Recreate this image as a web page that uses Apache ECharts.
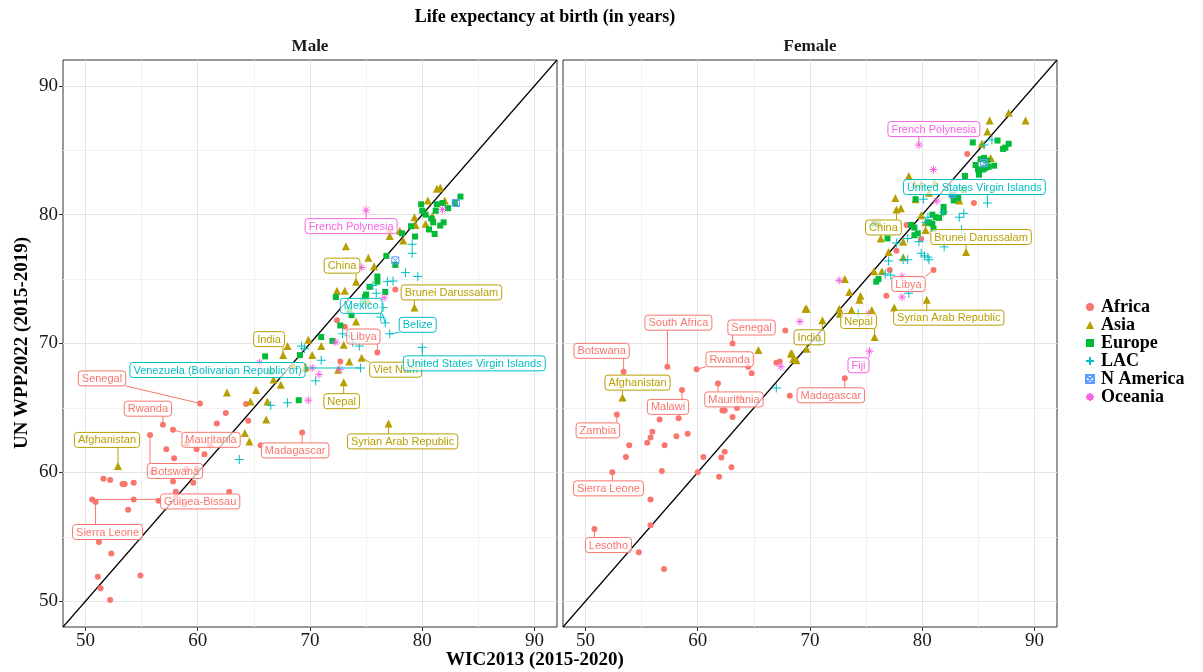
<!DOCTYPE html>
<html><head><meta charset="utf-8">
<script src="https://cdn.jsdelivr.net/npm/echarts@6/dist/echarts.min.js"></script>
<style>html,body{margin:0;padding:0;background:#fff}#c{width:1203px;height:672px}</style>
</head><body><div id="c"></div>
<script>
// ---------------- DATA ----------------
const groups = ['Africa','Asia','Europe','LAC','N America','Oceania'];
const panels = ['Male','Female'];
const tickValues = [50,60,70,80,90];
const minorValues = [55,65,75,85];

// [WIC2013, WPP2022, optional label]
const male_Africa = [[60.2,65.35,'Senegal'],[62.5,64.6],[61.7,63.8],[64.3,65.3],[64.5,64.0],[56.9,63.7,'Rwanda'],[57.8,63.3,'Mauritania'],[55.75,62.9,'Botswana'],[59.0,62.2],[59.9,61.8],[61.1,62.1],[57.2,61.8],[60.6,61.4],[57.9,61.1],[65.6,62.1],[69.3,63.1,'Madagascar'],[59.0,60.25],[59.9,60.3],[56.0,60.0],[57.8,59.3],[59.6,59.2],[51.6,59.5],[52.2,59.4],[53.3,59.1],[53.5,59.1],[54.3,59.2],[58.05,58.5],[58.05,58.1],[58.8,57.5],[62.8,58.5],[56.5,57.8],[50.6,57.9,'Guinea-Bissau'],[50.9,57.7,'Sierra Leone'],[54.3,57.9],[53.8,57.1],[51.2,54.6],[52.3,53.7],[51.1,51.9],[51.35,51.0],[52.2,50.1],[54.9,52.0],[72.4,71.8],[73.1,71.3],[77.6,74.2],[77.1,78.7],[72.7,68.6],[76.0,69.3,'Libya']];
const male_Asia = [[52.9,60.5,'Afghanistan'],[67.6,69.1,'India'],[68.0,69.8],[62.6,66.2],[65.2,66.4],[64.7,65.5],[66.2,65.5],[66.1,64.1],[64.2,63.05],[64.6,62.4],[66.75,67.2],[67.4,66.8],[68.5,68.3],[69.6,68.2],[69.85,70.3],[71.0,69.8],[70.2,69.1],[73.0,69.9],[73.5,68.6],[72.5,67.96],[69.5,68.1],[73.0,67.0,'Nepal'],[77.0,63.8,'Syrian Arab Republic'],[74.6,68.9,'Viet Nam'],[73.2,77.55],[75.2,76.65],[75.7,76.0],[74.1,74.8,'China'],[72.4,74.1],[73.1,74.1],[75.2,73.3],[74.1,71.7],[79.3,72.8,'Brunei Darussalam'],[78.0,78.75],[77.1,78.35],[78.3,78.0],[79.3,79.8],[80.5,81.1],[81.3,82.0],[81.6,82.1],[80.9,79.9],[80.3,79.3],[82.0,81.1],[79.4,79.2]];
const male_Europe = [[83.4,81.4],[82.9,80.9],[79.9,80.8],[81.3,80.8],[81.8,80.9],[80.3,80.0],[81.2,80.3],[80.97,79.4],[80.8,79.7],[80.6,78.85],[81.9,79.4],[81.6,79.15],[81.1,78.5],[79.0,79.1],[79.35,78.3],[78.2,78.55],[76.8,76.8],[77.6,76.1],[76.0,75.2],[76.0,74.8],[75.3,74.4],[75.0,73.8],[74.9,73.6],[76.7,74.0],[72.3,73.6],[73.5,72.6],[74.7,73.3],[73.7,72.2],[72.7,71.4],[71.0,70.5],[72.0,70.2],[66.0,69.0],[69.0,65.6],[69.1,69.1],[66.5,67.8],[80.0,80.3],[82.3,80.5]];
const male_LAC = [[79.1,77.7],[79.1,77.0],[78.5,75.5],[79.6,75.2],[76.9,74.8],[77.4,74.85],[76.3,72.05],[77.1,70.75,'Belize'],[76.5,72.8],[72.9,70.75],[73.5,70.6],[75.6,74.5],[74.5,72.9],[73.8,70.1],[74.4,69.8],[80.0,69.7,'United States Virgin Islands'],[71.0,68.7],[70.5,67.1],[74.5,68.1,'Venezuela (Bolivarian Republic of)'],[69.25,69.8],[69.5,69.6],[66.5,65.2],[68.0,65.4],[63.7,61.0],[76.7,71.6,'Mexico'],[75.9,73.9]];
const male_NAmerica = [[77.6,76.45],[83.0,80.9]];
const male_Oceania = [[75.0,80.35,'French Polynesia'],[74.6,75.9],[81.8,80.4],[65.5,68.5],[69.85,65.6],[70.2,68.1],[70.8,67.6],[72.3,70.1],[72.65,68.0],[76.6,73.55]];

const female_Africa = [[57.3,68.2,'South Africa'],[63.1,70.0,'Senegal'],[53.4,67.8,'Botswana'],[59.9,68.0,'Rwanda'],[64.5,68.2],[64.8,67.7],[67.8,71.0],[67.0,68.5],[67.3,68.6],[61.8,66.9,'Mauritania'],[58.6,66.4,'Malawi'],[63.8,65.8],[63.5,65.0],[62.2,64.8],[62.4,64.8],[63.1,64.3],[73.1,67.3,'Madagascar'],[68.2,65.95],[52.8,64.5,'Zambia'],[56.6,64.1],[58.3,64.2],[55.96,63.15],[55.8,62.7],[55.5,62.3],[57.05,62.1],[58.1,62.8],[59.1,63.0],[53.9,62.1],[53.6,61.2],[60.5,61.2],[62.1,61.15],[62.4,61.6],[63.0,60.4],[61.9,59.65],[60.0,60.0],[56.8,60.1],[52.4,60.0,'Sierra Leone'],[55.8,57.9],[55.8,55.9],[54.75,53.8],[50.8,55.6,'Lesotho'],[57.0,52.5],[81.0,75.7,'Libya'],[76.8,73.7],[77.1,75.7],[77.7,77.2],[78.6,79.2],[79.9,78.1],[84.6,80.9],[84.0,84.7]];
const female_Asia = [[53.3,65.8,'Afghanistan'],[65.4,69.5],[68.3,69.25],[68.5,68.8],[68.8,68.7],[69.7,69.6],[69.6,72.7],[71.1,71.8,'India'],[72.65,72.3],[73.7,72.6],[75.75,70.5,'Nepal'],[68.4,69.2],[80.4,73.4,'Syrian Arab Republic'],[77.5,72.8],[87.7,87.9],[89.2,87.3],[86.0,87.3],[85.8,86.45],[85.3,85.5],[86.1,84.4],[78.8,83.0],[81.1,82.5],[79.3,82.4],[79.9,82.4],[77.6,81.3],[79.4,81.2],[80.6,81.7],[77.7,80.4,'China'],[78.1,80.5],[83.3,81.1],[79.9,79.96],[80.3,78.8],[80.3,79.4],[76.2,79.3],[76.3,78.15],[78.3,77.9],[77.0,77.1],[78.3,76.7],[83.9,77.1,'Brunei Darussalam'],[75.7,75.6],[76.4,75.6],[73.1,75.0],[73.5,74.0],[74.5,73.7],[74.4,73.4],[72.6,72.7],[75.5,72.6],[69.7,72.7]];
const female_Europe = [[86.7,85.75],[87.4,85.2],[87.7,85.5],[87.2,85.1],[84.5,85.6],[85.2,84.3],[85.5,84.4],[85.8,84.2],[85.9,83.7],[86.4,83.8],[85.6,83.6],[84.75,83.85],[84.97,83.5],[85.05,83.1],[85.4,83.5],[83.8,83.0],[83.7,81.9],[82.7,81.5],[82.8,81.1],[83.2,81.3],[81.9,80.6],[81.9,80.2],[80.9,80.0],[81.2,79.8],[81.5,79.75],[80.6,79.4],[80.9,79.3],[79.3,79.0],[79.3,78.4],[79.0,79.2],[81.0,78.9],[76.9,78.15],[75.75,79.3],[75.9,74.8],[76.1,75.0],[79.4,81.2],[79.6,78.55]];
const female_LAC = [[86.2,85.8],[85.5,85.4],[85.8,80.9,'United States Virgin Islands'],[82.7,81.5],[83.7,80.1],[83.3,79.8],[83.5,78.85],[81.9,80.2],[81.95,77.5],[80.5,79.8],[80.3,79.4],[79.7,77.9],[79.9,77.0],[80.5,76.7],[80.6,76.5],[80.2,76.8],[78.7,78.15],[77.7,77.8],[77.0,76.4],[78.3,76.5],[78.7,76.5],[76.7,75.4],[77.2,75.3],[78.8,73.9],[74.3,72.3],[67.0,66.55],[70.8,70.2],[80.1,81.2]];
const female_NAmerica = [[82.7,81.6],[85.5,84.0]];
const female_Oceania = [[79.7,85.4,'French Polynesia'],[81.0,83.5],[81.3,81.05],[72.6,74.9],[78.2,75.2],[78.2,73.6],[75.2,72.3],[69.1,71.7],[75.3,69.4,'Fiji'],[67.4,68.2]];

// ---------------- LAYOUT / STYLE ----------------
const panelData = [
  [male_Africa, male_Asia, male_Europe, male_LAC, male_NAmerica, male_Oceania],
  [female_Africa, female_Asia, female_Europe, female_LAC, female_NAmerica, female_Oceania]
];
const colors = ['#F8766D','#B79F00','#00BA38','#00BFC4','#619CFF','#F564E3'];
const symbols = ['circle','triangle','rect',
  'path://M5,0L5,10M0,5L10,5',
  'path://M0,0L10,0L10,10L0,10ZM0,0L10,10M10,0L0,10',
  'path://M5,0L5,10M0,5L10,5M1.5,1.5L8.5,8.5M8.5,1.5L1.5,8.5'];
const symSizes = [6,8,6,9,7,8];
const stroked = [false,false,false,true,true,true];
// label box centre offsets (px) from the labelled point
const labelOffsets = [
  {'French Polynesia':[-15,16],'China':[-14,-16],'Brunei Darussalam':[37,-15],'Mexico':[-24,-17],'Belize':[28,-9],
   'Libya':[-14,-16],'India':[-14,-16],'Venezuela (Bolivarian Republic of)':[-143,2],'United States Virgin Islands':[52,16],
   'Viet Nam':[34,12],'Senegal':[-98,-25],'Nepal':[-2,19],'Rwanda':[-15,-16],'Afghanistan':[-11,-26],'Mauritania':[38,10],
   'Madagascar':[-7,18],'Syrian Arab Republic':[14,18],'Botswana':[25,36],'Guinea-Bissau':[108,2],'Sierra Leone':[12,30]},
  {'French Polynesia':[15,-16],'United States Virgin Islands':[-13,-16],'China':[-13,18],'Brunei Darussalam':[15,-15],
   'Libya':[-25,14],'Syrian Arab Republic':[22,18],'Nepal':[-16,-16],'India':[-13,17],'Fiji':[-11,14],'Madagascar':[-14,17],
   'South Africa':[11,-44],'Senegal':[19,-16],'Botswana':[-22,-21],'Rwanda':[33,-10],'Afghanistan':[15,-15],'Malawi':[-14,17],
   'Mauritania':[16,16],'Zambia':[-19,16],'Sierra Leone':[-4,16],'Lesotho':[14,16]}
];
const grids = [{left:63, top:60, width:494, height:567},{left:563, top:60, width:494, height:567}];
const serif = '"Liberation Serif","Times New Roman",serif';
const sans = '"Liberation Sans",Arial,sans-serif';
const labelFont = '11px ' + sans;

const measureCtx = document.createElement('canvas').getContext('2d');
measureCtx.font = labelFont;

const chart = echarts.init(document.getElementById('c'), null, {renderer:'canvas'});

const xAxes = [], yAxes = [], series = [];
panels.forEach((p, pi) => {
  xAxes.push({gridIndex:pi, type:'value', min:48, max:92,
    axisLine:{show:false}, splitLine:{show:false},
    axisTick:{show:true, customValues:tickValues, length:4, lineStyle:{color:'#333'}},
    axisLabel:{customValues:tickValues, fontFamily:serif, fontSize:19, color:'#1a1a1a', margin:5}});
  yAxes.push({gridIndex:pi, type:'value', min:48, max:92,
    axisLine:{show:false}, splitLine:{show:false},
    axisTick:{show:pi===0, customValues:tickValues, length:4, lineStyle:{color:'#333'}},
    axisLabel:{show:pi===0, customValues:tickValues, fontFamily:serif, fontSize:19, color:'#1a1a1a', margin:5}});
  // grid lines + diagonal
  const ml = [];
  tickValues.forEach(v => { ml.push({xAxis:v, lineStyle:{color:'#e4e4e4', width:1}}); ml.push({yAxis:v, lineStyle:{color:'#e4e4e4', width:1}}); });
  minorValues.forEach(v => { ml.push({xAxis:v, lineStyle:{color:'#f1f1f1', width:1}}); ml.push({yAxis:v, lineStyle:{color:'#f1f1f1', width:1}}); });
  series.push({type:'line', xAxisIndex:pi, yAxisIndex:pi, data:[[48,48],[92,92]], symbol:'none', silent:true, z:3,
    lineStyle:{color:'#000', width:1.2},
    markLine:{silent:true, symbol:'none', label:{show:false}, z:1, data:ml, lineStyle:{type:'solid'}}});
  groups.forEach((g, gi) => {
    const arr = panelData[pi][gi];
    series.push({type:'scatter', name:g, xAxisIndex:pi, yAxisIndex:pi, z:4,
      data:arr.map(d => [d[0], d[1]]),
      symbol:symbols[gi], symbolSize:symSizes[gi],
      itemStyle: stroked[gi] ? {color:'rgba(0,0,0,0)', borderColor:colors[gi], borderWidth:1, opacity:1}
                             : {color:colors[gi], opacity:1}
    });
  });
  // labels
  const items = [];
  groups.forEach((g, gi) => panelData[pi][gi].forEach(d => { if (d[2]) items.push({x:d[0], y:d[1], name:d[2], col:colors[gi]}); }));
  series.push({type:'custom', xAxisIndex:pi, yAxisIndex:pi, z:6, silent:true, clip:false,
    data:items.map(it => [it.x, it.y]),
    renderItem:(params, api) => {
      const it = items[params.dataIndex];
      const pt = api.coord([it.x, it.y]);
      const off = labelOffsets[pi][it.name] || [0,-16];
      const cx = pt[0] + off[0], cy = pt[1] + off[1];
      const w = measureCtx.measureText(it.name).width + 7, h = 15;
      const bx = cx - w/2, by = cy - h/2;
      const ex = Math.min(Math.max(pt[0], bx), bx + w), ey = Math.min(Math.max(pt[1], by), by + h);
      return {type:'group', children:[
        {type:'line', shape:{x1:pt[0], y1:pt[1], x2:ex, y2:ey}, style:{stroke:it.col, lineWidth:1}},
        {type:'rect', shape:{x:bx, y:by, width:w, height:h, r:3}, style:{fill:'rgba(255,255,255,0.7)', stroke:it.col, lineWidth:1}},
        {type:'text', style:{text:it.name, x:cx, y:cy+0.5, fill:it.col, font:labelFont, align:'center', verticalAlign:'middle'}}
      ]};
    }});
});

chart.setOption({
  animation:false,
  backgroundColor:'#fff',
  grid: grids.map(g => Object.assign({show:true, borderColor:'#333', borderWidth:1, backgroundColor:'#fff', containLabel:false}, g)),
  xAxis:xAxes, yAxis:yAxes, series:series,
  legend:{orient:'vertical', left:1080, top:293, itemWidth:8, itemHeight:8, itemGap:0, data:groups,
    textStyle:{fontFamily:serif, fontWeight:'bold', fontSize:18, lineHeight:18, color:'#000', padding:[0,0,0,2]}},
  graphic:[
    {type:'text', x:545, y:17, style:{text:'Life expectancy at birth (in years)', font:'bold 18px ' + serif, fill:'#000', align:'center', verticalAlign:'middle'}},
    {type:'text', x:310, y:47, style:{text:'Male', font:'bold 17px ' + serif, fill:'#1a1a1a', align:'center', verticalAlign:'middle'}},
    {type:'text', x:810, y:47, style:{text:'Female', font:'bold 17px ' + serif, fill:'#1a1a1a', align:'center', verticalAlign:'middle'}},
    {type:'text', x:535, y:660, style:{text:'WIC2013 (2015-2020)', font:'bold 19px ' + serif, fill:'#000', align:'center', verticalAlign:'middle'}},
    {type:'text', x:22, y:343, rotation:Math.PI/2, style:{text:'UN WPP2022 (2015-2019)', font:'bold 19px ' + serif, fill:'#000', align:'center', verticalAlign:'middle'}}
  ]
});
</script></body></html>
